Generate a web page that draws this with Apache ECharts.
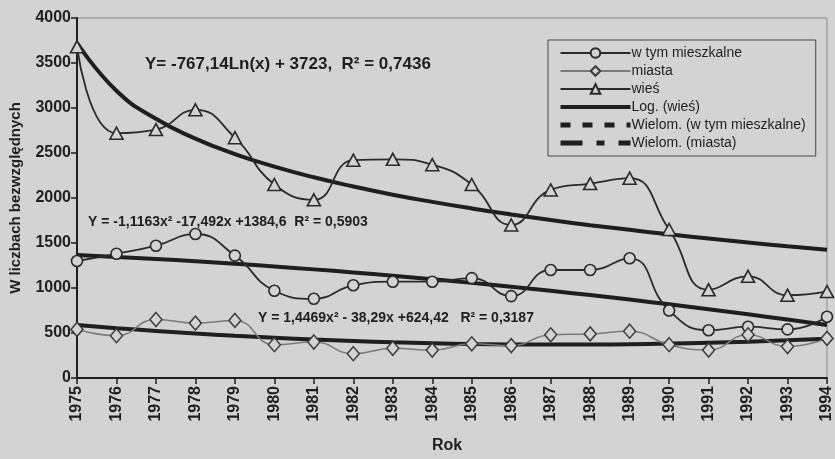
<!DOCTYPE html>
<html>
<head>
<meta charset="utf-8">
<script src="https://cdn.jsdelivr.net/npm/echarts@6/dist/echarts.min.js"></script>
<style>
  html, body { margin: 0; padding: 0; background: #d3d3d3; }
  #chart { width: 835px; height: 459px; }
</style>
</head>
<body>
<div id="chart"></div>
<script>
// lata
const years = ['1975', '1976', '1977', '1978', '1979', '1980', '1981', '1982', '1983', '1984',
  '1985', '1986', '1987', '1988', '1989', '1990', '1991', '1992', '1993', '1994']
const yTicks = [0, 500, 1000, 1500, 2000, 2500, 3000, 3500, 4000]

// dane
const mieszkalne = [1300, 1380, 1470, 1600, 1360, 970, 880, 1030, 1070, 1070,
  1110, 910, 1200, 1200, 1330, 750, 530, 570, 540, 680]
const miasta = [540, 470, 650, 610, 640, 370, 400, 270, 330, 310,
  380, 360, 480, 490, 520, 370, 310, 480, 350, 440]
const wies = [3680, 2720, 2760, 2980, 2670, 2150, 1980, 2420, 2430, 2370,
  2150, 1700, 2090, 2160, 2220, 1650, 980, 1130, 920, 960]

// linie trendu (wartości w punktach x = 1..20)
const logWies = [3723, 3191, 2880, 2660, 2488, 2349, 2230, 2128, 2037, 1957,
  1884, 1817, 1755, 1698, 1646, 1596, 1550, 1506, 1464, 1425]
const polyMieszkalne = [1366, 1345, 1322, 1297, 1269, 1239, 1207, 1173, 1137, 1098,
  1057, 1014, 969, 921, 871, 819, 765, 708, 649, 588]
const polyMiasta = [588, 554, 523, 494, 469, 447, 427, 411, 397, 386,
  378, 373, 371, 372, 376, 382, 392, 404, 419, 437]

const bg = '#d3d3d3'
const ink = '#1e1e1e'
const font = 'Liberation Sans'
// bez kropki na linii trendu w legendzie
const noDot = { color: 'transparent', borderWidth: 0, opacity: 0 }

let myChart = echarts.init(document.getElementById('chart'))

let option = {
  backgroundColor: bg,
  animation: false,
  textStyle: { fontFamily: font, color: ink },
  grid: {
    left: 75,
    right: 7,
    top: 18,
    bottom: 76,
    show: true,
    borderColor: '#8a8a8a',
    borderWidth: 1,
    backgroundColor: 'transparent'
  },
  legend: {
    orient: 'vertical',
    left: 548,
    top: 40,
    width: 270,
    padding: [6, 10, 6, 10],
    itemWidth: 70,
    itemHeight: 12,
    itemGap: 4,
    borderColor: '#444',
    borderWidth: 1,
    backgroundColor: bg,
    textStyle: { fontFamily: font, fontSize: 14, color: ink, padding: [0, 0, 0, -4] },
    data: [
      { name: 'w tym mieszkalne' },
      { name: 'miasta' },
      { name: 'wieś' },
      { name: 'Log. (wieś)', itemStyle: noDot, lineStyle: { width: 4 } },
      { name: 'Wielom. (w tym mieszkalne)', itemStyle: noDot, lineStyle: { type: [10, 12], width: 5 } },
      { name: 'Wielom. (miasta)', itemStyle: noDot, lineStyle: { type: [22, 14, 8, 14], width: 5 } }
    ]
  },
  xAxis: {
    type: 'category',
    data: years,
    boundaryGap: false,
    name: 'Rok',
    nameLocation: 'middle',
    nameGap: 60,
    nameTextStyle: { fontSize: 16, fontWeight: 'bold', color: ink, padding: [0, 0, 0, -10] },
    axisLine: { lineStyle: { color: ink, width: 2 } },
    axisTick: { show: true, alignWithLabel: true, length: 6, lineStyle: { color: ink, width: 1.5 } },
    axisLabel: { rotate: 90, fontSize: 16, fontWeight: 'bold', color: ink, margin: 8 },
    splitLine: { show: false }
  },
  yAxis: {
    type: 'value',
    min: yTicks[0],
    max: yTicks[yTicks.length - 1],
    interval: 500,
    name: 'W liczbach bezwzględnych',
    nameLocation: 'middle',
    nameGap: 54,
    nameTextStyle: { fontSize: 15, fontWeight: 'bold', color: ink },
    axisLine: { show: true, lineStyle: { color: ink, width: 2 } },
    axisTick: { show: true, length: 6, lineStyle: { color: ink, width: 1.5 } },
    axisLabel: { fontSize: 16, fontWeight: 'bold', color: ink, margin: 6, formatter: v => String(v) },
    splitLine: { show: false }
  },
  series: [
    {
      name: 'w tym mieszkalne',
      type: 'line',
      data: mieszkalne,
      smooth: 0.5,
      symbol: 'circle',
      symbolSize: 11,
      lineStyle: { color: '#2a2a2a', width: 1.8 },
      itemStyle: { color: bg, borderColor: '#2a2a2a', borderWidth: 1.6 },
      z: 3
    },
    {
      name: 'miasta',
      type: 'line',
      data: miasta,
      smooth: 0.5,
      symbol: 'diamond',
      symbolSize: [12, 14],
      lineStyle: { color: '#7a7a7a', width: 1.5 },
      itemStyle: { color: bg, borderColor: '#3a3a3a', borderWidth: 1.5 },
      z: 3
    },
    {
      name: 'wieś',
      type: 'line',
      data: wies,
      smooth: 0.5,
      symbol: 'triangle',
      symbolSize: [13, 12],
      lineStyle: { color: '#2a2a2a', width: 1.8 },
      itemStyle: { color: bg, borderColor: '#2a2a2a', borderWidth: 1.6 },
      z: 3
    },
    {
      name: 'Log. (wieś)',
      type: 'line',
      data: logWies,
      smooth: true,
      symbol: 'none',
      lineStyle: { color: ink, width: 4 },
      itemStyle: { color: ink },
      z: 2
    },
    {
      name: 'Wielom. (w tym mieszkalne)',
      type: 'line',
      data: polyMieszkalne,
      smooth: true,
      symbol: 'none',
      lineStyle: { color: ink, width: 4 },
      itemStyle: { color: ink },
      z: 2
    },
    {
      name: 'Wielom. (miasta)',
      type: 'line',
      data: polyMiasta,
      smooth: true,
      symbol: 'none',
      lineStyle: { color: ink, width: 4 },
      itemStyle: { color: ink },
      z: 2
    }
  ],
  graphic: [
    {
      type: 'text',
      left: 145,
      top: 56,
      style: { text: 'Y= -767,14Ln(x) + 3723,  R² = 0,7436', font: 'bold 17px "Liberation Sans"', fill: ink }
    },
    {
      type: 'text',
      left: 88,
      top: 215,
      style: { text: 'Y = -1,1163x² -17,492x +1384,6  R² = 0,5903', font: 'bold 14px "Liberation Sans"', fill: ink }
    },
    {
      type: 'text',
      left: 258,
      top: 311,
      style: { text: 'Y = 1,4469x² - 38,29x +624,42   R² = 0,3187', font: 'bold 14px "Liberation Sans"', fill: ink }
    }
  ]
}

myChart.setOption(option)
</script>
</body>
</html>
